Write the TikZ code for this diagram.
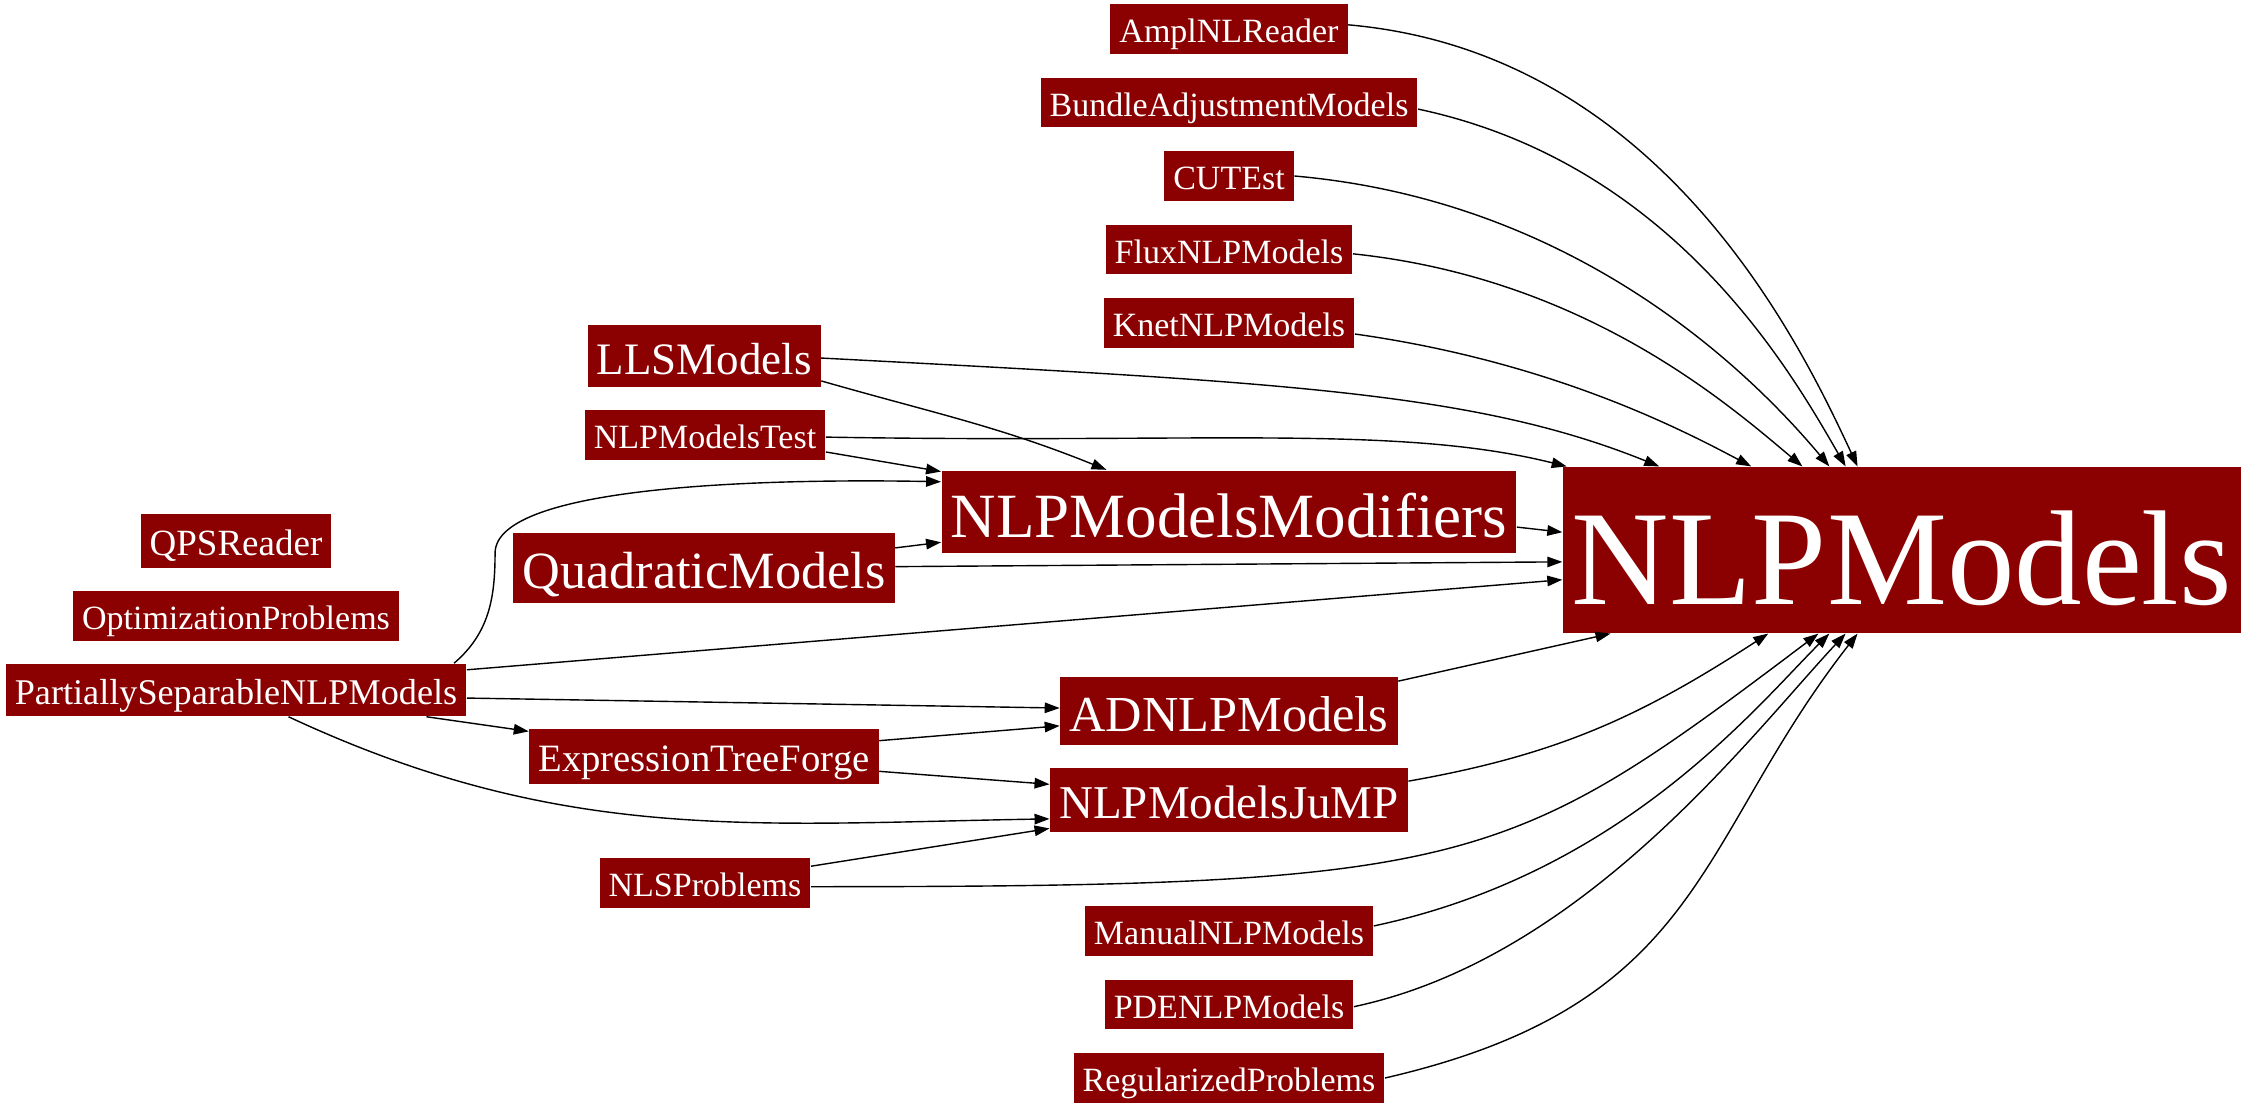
\documentclass[tikz,border=0pt]{standalone}
\usepackage{fontspec}
\setmainfont{Liberation Serif}
\usetikzlibrary{positioning,arrows.meta}
\definecolor{darkred}{HTML}{8B0000}
\tikzset{>={Triangle[length=15pt,width=10.5pt]}}
\tikzset{pkg/.style={fill=darkred, text=white, inner xsep=9pt, inner ysep=0pt,
    font=\fontsize{#1}{#1}\selectfont, text height=0.8*#1pt, text depth=0pt,
    minimum height=1.15*#1pt+10.5pt},
  pkg/.default=34,
  dep/.style={out looseness=1.2, in looseness=0.5}}

\begin{document}
\begin{tikzpicture}[x=1pt, y=1pt, node distance=73.5pt, line width=1.4pt]
    \useasboundingbox (0,0) rectangle (2247,-1107);
    \node[pkg=135] (nlp) at (1902,-550) {NLPModels}; %core
    \node[pkg] (ampl) at (1229,-29) {AmplNLReader};
    \node[pkg] (bundle) [below of=ampl] {BundleAdjustmentModels};
    \node[pkg] (cutest) [below of=bundle] {CUTEst};
    \node[pkg] (flux) [below of=cutest] {FluxNLPModels};
    \node[pkg] (knet) [below of=flux] {KnetNLPModels};
    \node[pkg=63] (mods) at (1229,-512) {NLPModelsModifiers};
    \node[pkg=50.4] (ad) at (1229,-711) {ADNLPModels};
    \node[pkg=47] (jump) at (1229,-800) {NLPModelsJuMP};
    \node[pkg] (manual) at (1229,-931) {ManualNLPModels};
    \node[pkg] (pde) [below of=manual] {PDENLPModels};
    \node[pkg] (reg) [below of=pde] {RegularizedProblems};
    \node[pkg=45] (lls) at (704,-356) {LLSModels};
    \node[pkg] (test) at (705,-435) {NLPModelsTest};
    \node[pkg=52.3] (quad) at (704,-568) {QuadraticModels};
    \node[pkg=38.7] (etf) at (704,-756) {ExpressionTreeForge};
    \node[pkg] (nls) at (705,-883) {NLSProblems};
    \node[pkg=37] (qps) at (236,-541) {QPSReader};
    \node[pkg] (opt) at (236,-616) {OptimizationProblems};
    \node[pkg=36.2] (ps) at (236,-690) {PartiallySeparableNLPModels};
    \path[->] (ampl.2) edge[dep, out=-5, in=115] (nlp.118)
              (bundle.-2) edge[dep, out=-12, in=120] (nlp.124)
              (cutest.east) edge[dep, out=-5, in=130] (nlp.131)
              (flux.-2) edge[dep, out=-6, in=140] (nlp.140)
              (knet.-5) edge[dep, out=-8, in=152] (nlp.151)
              (lls.-1) edge[out=-3, in=158, out looseness=1.4, in looseness=0.6] (nlp.161)
              (lls.-12) edge[out=-16, in=158] (mods.161)
              (test) edge[out=-1, in=166, out looseness=1.3, in looseness=0.6] (nlp.166)
              (test.-8) edge (mods.172)
              (mods.-3) edge (nlp.177)
              (quad.6) edge (mods.186)
              (quad) edge (nlp.182)
              (ps.5) edge (nlp.185)
              (ps.-2) edge (ad.179)
              (ps.-8) edge (etf.172)
              (ps.-27) edge[out=-25, in=181] (jump.186)
              (etf.5) edge (ad.185)
              (etf.-5) edge (jump.175)
              (ad.10) edge (nlp.196)
              (jump.6) edge[out=10, in=-147] (nlp.212)
              (nls.9) edge (jump.189)
              (nls.-2) edge[out=0, in=-143, out looseness=1.64, in looseness=0.96] (nlp.225)
              (manual.2) edge[dep, out=12, in=-135] (nlp.229)
              (pde.-1) edge[out=12, in=-133, out looseness=0.97, in looseness=0.59] (nlp.236)
              (reg.east) edge[out=13, in=-128, out looseness=1.3, in looseness=1.05] (nlp.242);
    \draw[->] (ps.7) .. controls +(35,30) and +(0,-45) .. ++(41,110)
              .. controls +(0,70) and +(-160,3) .. (mods.174);
\end{tikzpicture}
\end{document}
